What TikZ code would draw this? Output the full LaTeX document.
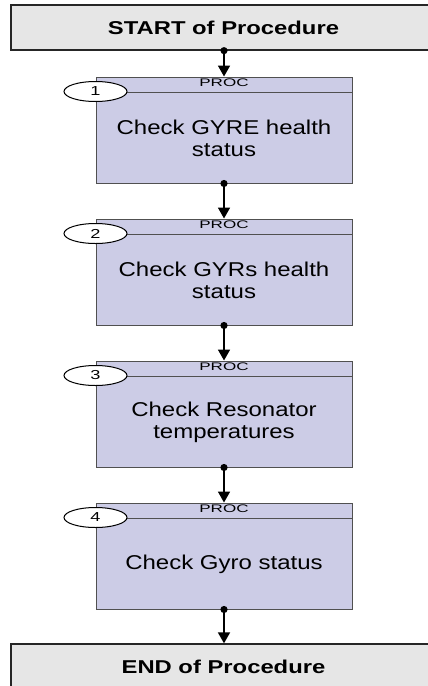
\documentclass[tikz,border=0pt]{standalone}
\usepackage{fontspec}
\usepackage{graphicx}
\setmainfont{Liberation Sans}
\newfontfamily\bodyfont{Liberation Sans}[FakeStretch=1.2]
\newfontfamily\tagfont{Liberation Sans}[FakeStretch=1.55]
\newfontfamily\numfont{Liberation Sans}[FakeStretch=1.4]
\newfontfamily\termfont{Liberation Sans}[FakeStretch=1.28]
\usetikzlibrary{arrows.meta,calc,shapes.geometric}

\definecolor{procfill}{HTML}{CCCCE6}
\definecolor{procline}{HTML}{505050}
\definecolor{termfill}{HTML}{E6E6E6}

\tikzset{
  terminal/.style={draw=black!85, line width=1.3pt, fill=termfill,
    minimum width=425pt, minimum height=45pt, inner sep=0pt,
    font=\termfont\bfseries\fontsize{18.6}{22}\selectfont},
  procbox/.style={draw=procline, line width=1pt, fill=procfill,
    minimum width=256pt, minimum height=106pt, inner sep=0pt},
  stepnum/.style={ellipse, draw=black, line width=1pt, fill=white,
    minimum width=63pt, minimum height=20pt, inner sep=0pt,
    font=\numfont\fontsize{13}{13}\selectfont},
  proctag/.style={inner sep=0pt, font=\tagfont\fontsize{11}{11}\selectfont},
  proctext/.style={inner sep=0pt, align=center,
    font=\bodyfont\fontsize{20}{22}\selectfont},
  flow/.style={line width=1.8pt, -{Triangle[width=12pt,length=11pt]}},
  flowdot/.style={fill=black},
}

\begin{document}
\begin{tikzpicture}[x=1pt,y=-1pt]
  \useasboundingbox (0,0) rectangle (428,686);
  \clip (0,0) rectangle (428,686);

  % start and end terminals
  \node[terminal] (start) at (223.5,27.5) {START of Procedure};
  \node[terminal] (stop)  at (223.5,666.5) {END of Procedure};

  % procedure steps
  \foreach \i/\cy/\txt in {1/130/{Check GYRE health\\status},
                           2/272/{Check GYRs health\\status},
                           3/414/{Check Resonator\\temperatures},
                           4/556/{Check Gyro status}} {
    \node[procbox] (p\i) at (224,\cy) {};
    \draw[procline, line width=1pt] ($(p\i.north west)+(0,15.5)$) -- ($(p\i.north east)+(0,15.5)$);
    \node[proctag] (t\i) at ($(p\i.north)+(0,6.5)$) {PROC};
    \node[stepnum] (n\i) at ($(p\i.north west)+(0,15)$) {\i};
    \node[proctext] (b\i) at ($(p\i.south)+(0,-45)$) {\txt};
  }

  % connectors
  \coordinate (s0) at (start.south -| p1.north);
  \coordinate (e0) at (stop.north -| p4.south);
  \fill[flowdot] (s0) circle (3.6pt);
  \draw[flow] (s0) -- (p1.north);
  \foreach \a/\b in {1/2,2/3,3/4} {
    \fill[flowdot] (p\a.south) circle (3.6pt);
    \draw[flow] (p\a.south) -- (p\b.north);
  }
  \fill[flowdot] (p4.south) circle (3.6pt);
  \draw[flow] (p4.south) -- (e0);
\end{tikzpicture}
\end{document}
